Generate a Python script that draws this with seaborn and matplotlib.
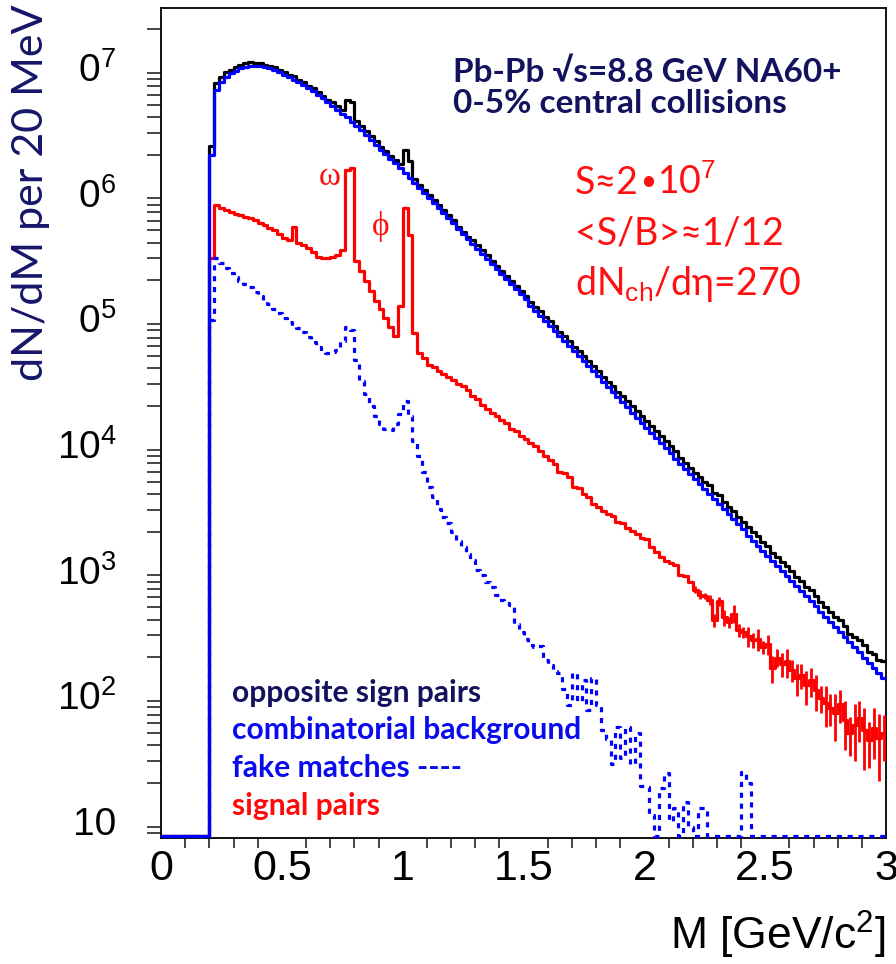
import numpy as np
import pandas as pd
import matplotlib
matplotlib.use("Agg")
import matplotlib.pyplot as plt
import seaborn as sns
from matplotlib.ticker import LogLocator, FuncFormatter, MultipleLocator, NullFormatter

# ---------------- data (log10 of dN/dM per 20 MeV bin, 0 = empty bin) ----------------
bin_width = 0.02
m_low_edges = np.round(np.arange(0.0, 3.0, bin_width), 2)   # 150 bins, 0 .. 2.98

comb_bkg_log = [
    0, 0, 0, 0, 0, 0, 0, 0, 0, 0,
    6.30, 6.82, 6.88, 6.92, 6.95, 6.97, 6.99, 7.00, 7.01, 7.01,
    7.01, 7.00, 6.99, 6.98, 6.96, 6.94, 6.92, 6.90, 6.88, 6.86,
    6.83, 6.81, 6.78, 6.75, 6.72, 6.69, 6.66, 6.63, 6.60, 6.56,
    6.53, 6.50, 6.46, 6.42, 6.38, 6.34, 6.31, 6.27, 6.24, 6.20,
    6.16, 6.12, 6.08, 6.04, 6.00, 5.96, 5.92, 5.88, 5.84, 5.80,
    5.76, 5.71, 5.67, 5.63, 5.59, 5.55, 5.51, 5.47, 5.43, 5.39,
    5.35, 5.31, 5.27, 5.23, 5.19, 5.15, 5.10, 5.06, 5.02, 4.98,
    4.94, 4.90, 4.86, 4.82, 4.78, 4.74, 4.70, 4.66, 4.62, 4.58,
    4.54, 4.49, 4.45, 4.41, 4.37, 4.33, 4.29, 4.25, 4.21, 4.17,
    4.13, 4.09, 4.05, 4.01, 3.97, 3.93, 3.88, 3.84, 3.80, 3.76,
    3.72, 3.68, 3.64, 3.60, 3.56, 3.52, 3.48, 3.44, 3.40, 3.36,
    3.32, 3.27, 3.23, 3.19, 3.15, 3.11, 3.07, 3.03, 2.99, 2.95,
    2.91, 2.87, 2.83, 2.79, 2.75, 2.71, 2.66, 2.62, 2.58, 2.54,
    2.50, 2.46, 2.42, 2.38, 2.34, 2.30, 2.26, 2.22, 2.18, 2.14,
]

signal_log = [
    0, 0, 0, 0, 0, 0, 0, 0, 0, 0,
    5.48, 5.90, 5.88, 5.86, 5.85, 5.83, 5.82, 5.81, 5.80, 5.78,
    5.76, 5.74, 5.72, 5.70, 5.67, 5.64, 5.62, 5.73, 5.60, 5.58,
    5.56, 5.53, 5.49, 5.48, 5.48, 5.49, 5.50, 5.54, 6.18, 6.20,
    5.46, 5.38, 5.30, 5.22, 5.14, 5.07, 5.00, 4.93, 4.86, 5.10,
    5.88, 5.66, 4.88, 4.72, 4.68, 4.63, 4.61, 4.58, 4.56, 4.53,
    4.51, 4.48, 4.46, 4.43, 4.38, 4.36, 4.31, 4.28, 4.25, 4.22,
    4.19, 4.17, 4.12, 4.10, 4.06, 4.04, 4.01, 3.98, 3.94, 3.90,
    3.87, 3.84, 3.78, 3.77, 3.74, 3.66, 3.65, 3.60, 3.58, 3.52,
    3.50, 3.47, 3.44, 3.43, 3.38, 3.37, 3.33, 3.31, 3.28, 3.25,
    3.24, 3.18, 3.14, 3.10, 3.07, 3.05, 3.04, 2.96, 2.95, 2.90,
    2.84, 2.80, 2.79, 2.76, 2.60, 2.75, 2.62, 2.58, 2.65, 2.52,
    2.50, 2.47, 2.44, 2.45, 2.38, 2.41, 2.22, 2.30, 2.25, 2.27,
    2.20, 2.14, 2.16, 2.08, 2.12, 2.04, 1.98, 1.94, 1.90, 1.86,
    1.93, 1.80, 1.70, 1.76, 1.82, 1.72, 1.64, 1.74, 1.66, 1.70,
]

# relative errors of the signal for bins from 2.20 GeV upward
signal_rel_err_hi_mass = [
    0.06, 0.08, 0.05, 0.10, 0.12, 0.08, 0.14, 0.10, 0.16, 0.12,
    0.10, 0.18, 0.14, 0.20, 0.12, 0.18, 0.24, 0.16, 0.22, 0.26,
    0.20, 0.28, 0.22, 0.30, 0.26, 0.32, 0.24, 0.36, 0.28, 0.40,
    0.30, 0.42, 0.34, 0.48, 0.36, 0.52, 0.40, 0.44, 0.55, 0.40,
]
err_start_mass = 2.20

opposite_sign_log = [
    0, 0, 0, 0, 0, 0, 0, 0, 0, 0,
    6.37, 6.87, 6.92, 6.96, 6.98, 7.00, 7.02, 7.03, 7.04, 7.03,
    7.03, 7.02, 7.01, 7.00, 6.98, 6.96, 6.94, 6.93, 6.90, 6.88,
    6.85, 6.83, 6.80, 6.77, 6.74, 6.72, 6.69, 6.66, 6.74, 6.72,
    6.57, 6.53, 6.49, 6.45, 6.41, 6.36, 6.33, 6.29, 6.26, 6.23,
    6.34, 6.25, 6.11, 6.06, 6.02, 5.98, 5.94, 5.90, 5.86, 5.82,
    5.78, 5.73, 5.69, 5.65, 5.62, 5.58, 5.54, 5.50, 5.46, 5.42,
    5.38, 5.34, 5.30, 5.26, 5.22, 5.18, 5.13, 5.09, 5.06, 5.01,
    4.98, 4.94, 4.89, 4.86, 4.82, 4.77, 4.74, 4.70, 4.66, 4.62,
    4.58, 4.53, 4.49, 4.46, 4.41, 4.38, 4.34, 4.30, 4.26, 4.22,
    4.18, 4.14, 4.10, 4.06, 4.02, 3.98, 3.94, 3.89, 3.85, 3.81,
    3.77, 3.74, 3.70, 3.67, 3.61, 3.59, 3.54, 3.50, 3.47, 3.42,
    3.38, 3.34, 3.30, 3.27, 3.22, 3.19, 3.13, 3.10, 3.06, 3.03,
    2.99, 2.94, 2.91, 2.86, 2.84, 2.79, 2.74, 2.70, 2.66, 2.62,
    2.60, 2.55, 2.49, 2.46, 2.44, 2.40, 2.34, 2.33, 2.28, 2.27,
]

fake_match_log = [
    0, 0, 0, 0, 0, 0, 0, 0, 0, 0,
    4.99, 5.48, 5.44, 5.40, 5.36, 5.33, 5.30, 5.27, 5.25, 5.21,
    5.18, 5.14, 5.11, 5.07, 5.04, 5.00, 4.97, 4.94, 4.92, 4.89,
    4.85, 4.81, 4.77, 4.73, 4.72, 4.73, 4.75, 4.82, 4.93, 4.91,
    4.67, 4.50, 4.40, 4.30, 4.22, 4.16, 4.12, 4.11, 4.16, 4.24,
    4.34, 4.22, 4.02, 3.90, 3.78, 3.66, 3.58, 3.48, 3.42, 3.37,
    3.30, 3.23, 3.18, 3.12, 3.08, 3.00, 2.96, 2.90, 2.86, 2.80,
    2.76, 2.73, 2.72, 2.57, 2.50, 2.45, 2.40, 2.38, 2.39, 2.28,
    2.24, 2.19, 2.18, 2.05, 1.92, 2.18, 1.95, 2.12, 1.88, 2.14,
    1.92, 1.72, 1.65, 1.45, 1.75, 1.50, 1.75, 1.45, 1.70, 1.28,
    1.27, 1.05, 0, 1.26, 1.38, 1.00, 1.10, 0, 1.15, 0.95,
    0, 1.10, 1.10, 0, 0, 0, 0, 0, 0, 0,
    1.39, 1.30, 0, 0, 0, 0, 0, 0, 0, 0,
    0, 0, 0, 0, 0, 0, 0, 0, 0, 0,
    0, 0, 0, 0, 0, 0, 0, 0, 0, 0,
]

y_axis_min, y_axis_max = 7.3, 2.95e7
empty_level = 7.6          # ROOT draws empty bins at the bottom of a log axis

y_tick_exponents = [1, 2, 3, 4, 5, 6, 7]
x_tick_values = [0, 0.5, 1, 1.5, 2, 2.5, 3]

legend_lines = [
    ("opposite sign pairs", "#12125e"),
    ("combinatorial background", "#0a0aee"),
    ("fake matches ----", "#0a0aee"),
    ("signal pairs", "#ff0a0a"),
]
info_lines = ["Pb-Pb \u221As=8.8 GeV NA60+", "0-5% central collisions"]
# first statistics line is composed of pieces: (text, fontsize, raise in px)
stat_line1_pieces = [("S\u22482", 27, 0), ("\u2022", 20, 4), ("10$^{7}$", 27, 0)]
stat_lines_rest = ["<S/B>\u22481/12", "dN$_{\\rm ch}$/d\u03b7=270"]

# ---------------- helpers ----------------
def step_frame(log_vals, name):
    vals = np.maximum(10.0 ** np.asarray(log_vals, dtype=float), empty_level)
    edges = np.append(m_low_edges, 3.0)
    y = np.append(vals, vals[-1])
    return pd.DataFrame({"M": edges, "dNdM": y, "series": name})

df_os = step_frame(opposite_sign_log, "opposite sign pairs")
df_cb = step_frame(comb_bkg_log, "combinatorial background")
df_fm = step_frame(fake_match_log, "fake matches")
df_sg = step_frame(signal_log, "signal pairs")

# ---------------- figure ----------------
sns.set_theme(style="white")
plt.rcParams["font.family"] = ["Liberation Sans", "DejaVu Sans"]
plt.rcParams["mathtext.fontset"] = "custom"
plt.rcParams["mathtext.rm"] = "Liberation Sans"
plt.rcParams["mathtext.it"] = "Liberation Sans:italic"

fig = plt.figure(figsize=(8.96, 9.64), dpi=100)
ax = fig.add_axes([161 / 896, 1 - 838 / 964, 725 / 896, 830 / 964])
ax.set_yscale("log")
ax.set_xlim(0, 3)
ax.set_ylim(y_axis_min, y_axis_max)

lw = 2.3
common = dict(x="M", y="dNdM", drawstyle="steps-post", estimator=None, sort=False, ax=ax, legend=False)
sns.lineplot(data=df_os, color="black", linewidth=lw, zorder=3, **common)
sns.lineplot(data=df_sg, color="#ff0000", linewidth=lw, zorder=4, **common)
sns.lineplot(data=df_fm, color="#0000ff", linewidth=lw, linestyle=(0, (1.6, 1.8)), zorder=5, **common)
sns.lineplot(data=df_cb, color="#0000ff", linewidth=lw, zorder=6, **common)

# error bars on the signal at high mass
sig_lin = 10.0 ** np.asarray(signal_log)
i0 = int(round(err_start_mass / bin_width))
centers = m_low_edges[i0:] + bin_width / 2
vals = sig_lin[i0:]
rel = np.asarray(signal_rel_err_hi_mass)
ax.errorbar(centers, vals, yerr=[vals * rel, vals * rel], fmt="none", ecolor="#ff0000",
            elinewidth=2.0, capsize=0, zorder=4)

# axes styling (ROOT-like)
for s in ax.spines.values():
    s.set_color("black")
    s.set_linewidth(1.3)
ax.yaxis.set_major_locator(LogLocator(base=10, numticks=20))
ax.yaxis.set_minor_locator(LogLocator(base=10, subs=np.arange(2, 10), numticks=20))
ax.yaxis.set_minor_formatter(NullFormatter())

def y_fmt(v, pos):
    e = int(round(np.log10(v)))
    if e not in y_tick_exponents:
        return ""
    if e == 1:
        return "10"
    return r"$\mathregular{10^{%d}}$" % e
ax.yaxis.set_major_formatter(FuncFormatter(y_fmt))
ax.set_xticks(x_tick_values)
ax.set_xticklabels([("%g" % v) for v in x_tick_values])
ax.xaxis.set_minor_locator(MultipleLocator(0.1))

ax.tick_params(axis="y", which="major", direction="out", length=18, width=1.2, labelsize=28, pad=14, colors="black")
ax.tick_params(axis="y", which="minor", direction="out", length=10, width=1.2, left=True)
ax.tick_params(axis="x", which="major", direction="out", length=12, width=1.2, labelsize=31, pad=-4, colors="black")
ax.tick_params(axis="x", which="minor", direction="out", length=7, width=1.2, bottom=True)
ax.set_xlabel("")
ax.set_ylabel("")

fig.text(886 / 896, 1 - 935 / 964, r"M [GeV/c$^{2}$]", ha="right", va="center", fontsize=32, color="black")

# y axis title (covers the leading "1" of the upper tick labels as in the original)
fig.text(31 / 896, 1 - 193 / 964, "dN/dM per 20 MeV", rotation=90, ha="center", va="center",
         fontsize=31, color="#16166a", family=["Lato", "DejaVu Sans"],
         bbox=dict(facecolor="white", edgecolor="none", pad=20), zorder=10)

# annotation texts
lato = ["Lato", "DejaVu Sans"]
red_txt = "#ff1010"
for k, txt in enumerate(info_lines):
    fig.text(453 / 896, 1 - (82 + 31 * k) / 964, txt, ha="left",
             va="baseline", fontsize=24, fontweight="bold", color="#12125e", family=lato)

renderer = fig.canvas.get_renderer()
x_px = 575.0
for txt, fs, dy in stat_line1_pieces:
    t = fig.text(x_px / 896, 1 - (194 - dy) / 964, txt, ha="left", va="baseline",
                 fontsize=fs, color=red_txt, family=lato)
    x_px = t.get_window_extent(renderer).x1 + 1
for k, txt in enumerate(stat_lines_rest):
    fig.text(575 / 896, 1 - (194 + 50.5 * (k + 1)) / 964, txt, ha="left",
             va="baseline", fontsize=27, color=red_txt, family=lato)

for k, (txt, col) in enumerate(legend_lines):
    fig.text(232 / 896, 1 - (693 + 37.5 * k) / 964, txt, ha="left",
             va="center", fontsize=21.6, fontweight="bold", color=col, family=lato)

fig.text(330 / 896, 1 - 177 / 964, "\u03c9", ha="center", va="center",
         fontsize=24, color=red_txt, family=["Liberation Serif", "DejaVu Serif"])
fig.text(381 / 896, 1 - 226 / 964, "\u03d5", ha="center", va="center",
         fontsize=24, color=red_txt, family=["Liberation Serif", "DejaVu Serif"])

fig.savefig("out.png", dpi=100, facecolor="white")
